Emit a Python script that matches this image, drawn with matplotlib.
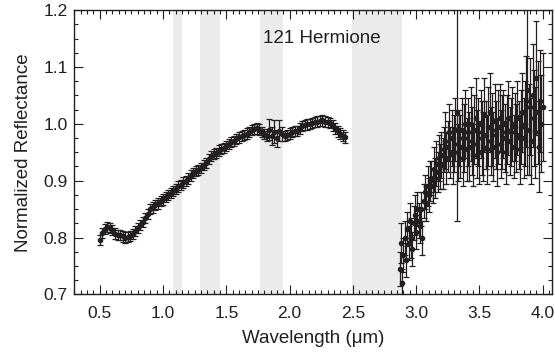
import matplotlib
matplotlib.use("Agg")
import matplotlib.pyplot as plt
from matplotlib.ticker import MultipleLocator

plt.rcParams['font.family'] = ['Liberation Sans', 'DejaVu Sans']

# near-IR part, 0.50-2.44 um
wave_vis = [0.50, 0.52, 0.54, 0.56, 0.58, 0.60, 0.62, 0.64, 0.66, 0.68,
            0.70, 0.72, 0.74, 0.76, 0.78, 0.80, 0.82, 0.84, 0.86, 0.88,
            0.90, 0.92, 0.94, 0.96, 0.98, 1.00, 1.02, 1.04, 1.06, 1.08,
            1.10, 1.12, 1.14, 1.16, 1.18, 1.20, 1.22, 1.24, 1.26, 1.28,
            1.30, 1.32, 1.34, 1.36, 1.38, 1.40, 1.42, 1.44, 1.46, 1.48,
            1.50, 1.52, 1.54, 1.56, 1.58, 1.60, 1.62, 1.64, 1.66, 1.68,
            1.70, 1.72, 1.74, 1.76, 1.78, 1.80, 1.82, 1.84, 1.86, 1.88,
            1.90, 1.92, 1.94, 1.96, 1.98, 2.00, 2.02, 2.04, 2.06, 2.08,
            2.10, 2.12, 2.14, 2.16, 2.18, 2.20, 2.22, 2.24, 2.26, 2.28,
            2.30, 2.32, 2.34, 2.36, 2.38, 2.40, 2.42, 2.44]
refl_vis = [0.796, 0.808, 0.815, 0.818, 0.817, 0.813, 0.807, 0.804, 0.805, 0.802,
            0.800, 0.801, 0.803, 0.806, 0.811, 0.817, 0.822, 0.828, 0.835, 0.842,
            0.850, 0.853, 0.857, 0.860, 0.864, 0.867, 0.871, 0.875, 0.879, 0.882,
            0.886, 0.890, 0.893, 0.897, 0.900, 0.904, 0.909, 0.914, 0.917, 0.919,
            0.922, 0.927, 0.931, 0.938, 0.944, 0.947, 0.949, 0.953, 0.956, 0.958,
            0.961, 0.964, 0.968, 0.970, 0.973, 0.976, 0.979, 0.981, 0.983, 0.986,
            0.989, 0.991, 0.992, 0.990, 0.986, 0.982, 0.979, 0.990, 0.978, 0.986,
            0.975, 0.988, 0.982, 0.979, 0.981, 0.983, 0.985, 0.987, 0.988, 0.992,
            0.996, 0.998, 0.999, 1.000, 1.002, 1.003, 1.004, 1.005, 1.006, 1.004,
            1.003, 1.001, 0.997, 0.992, 0.987, 0.983, 0.979, 0.976]
err_vis = [0.009] * 67 + [0.018, 0.016, 0.020, 0.015, 0.018, 0.012] + [0.009] * 19 + [0.010] * 6

# L-band part, 2.87-4.00 um
wave_ir = [2.87, 2.88, 2.89, 2.90, 2.91, 2.92, 2.93, 2.94, 2.95, 2.96,
           2.97, 2.98, 2.99, 3.00, 3.01, 3.02, 3.03, 3.04, 3.05, 3.06,
           3.07, 3.08, 3.09, 3.10, 3.11, 3.12, 3.13, 3.14, 3.15, 3.16,
           3.17, 3.18, 3.19, 3.20, 3.21, 3.22, 3.23, 3.24, 3.25, 3.26,
           3.27, 3.28, 3.29, 3.30, 3.31, 3.32, 3.33, 3.34, 3.35, 3.36,
           3.37, 3.38, 3.39, 3.40, 3.41, 3.42, 3.43, 3.44, 3.45, 3.46,
           3.47, 3.48, 3.49, 3.50, 3.51, 3.52, 3.53, 3.54, 3.55, 3.56,
           3.57, 3.58, 3.59, 3.60, 3.61, 3.62, 3.63, 3.64, 3.65, 3.66,
           3.67, 3.68, 3.69, 3.70, 3.71, 3.72, 3.73, 3.74, 3.75, 3.76,
           3.77, 3.78, 3.79, 3.80, 3.81, 3.82, 3.83, 3.84, 3.85, 3.86,
           3.87, 3.88, 3.89, 3.90, 3.91, 3.92, 3.93, 3.94, 3.95, 3.96,
           3.97, 3.98, 3.99, 4.00]
refl_ir = [0.745, 0.790, 0.720, 0.770, 0.800, 0.760, 0.815, 0.790, 0.830, 0.800,
           0.780, 0.825, 0.840, 0.810, 0.850, 0.830, 0.820, 0.850, 0.800, 0.865,
           0.880, 0.860, 0.890, 0.875, 0.900, 0.905, 0.890, 0.920, 0.905, 0.930,
           0.915, 0.940, 0.925, 0.945, 0.930, 0.955, 0.970, 0.940, 0.960, 0.985,
           0.950, 0.975, 0.945, 0.965, 0.990, 1.020, 0.950, 0.975, 0.960, 0.990,
           0.940, 0.975, 1.000, 0.955, 0.985, 0.960, 1.000, 0.970, 0.945, 0.990,
           1.010, 0.965, 0.985, 0.950, 1.000, 0.975, 0.960, 1.015, 0.980, 0.955,
           0.995, 1.020, 0.970, 0.990, 0.960, 1.005, 0.980, 0.950, 0.995, 1.010,
           0.965, 0.985, 1.000, 0.975, 0.950, 0.990, 1.010, 0.970, 0.985, 1.000,
           0.960, 0.995, 0.975, 1.010, 0.980, 0.955, 0.995, 1.020, 0.975, 1.000,
           1.040, 1.060, 0.990, 1.030, 0.970, 1.050, 1.010, 0.985, 1.080, 1.020,
           0.960, 1.040, 1.000, 1.030]
err_ir = [0.030, 0.035, 0.025, 0.030, 0.030, 0.030, 0.030, 0.030, 0.030, 0.035,
          0.030, 0.030, 0.035, 0.030, 0.030, 0.030, 0.030, 0.030, 0.030, 0.030,
          0.030, 0.030, 0.035, 0.030, 0.035, 0.030, 0.030, 0.040, 0.035, 0.040,
          0.035, 0.040, 0.040, 0.040, 0.045, 0.040, 0.050, 0.045, 0.045, 0.050,
          0.045, 0.050, 0.050, 0.050, 0.055, 0.190, 0.050, 0.050, 0.055, 0.055,
          0.050, 0.060, 0.060, 0.055, 0.060, 0.060, 0.065, 0.060, 0.055, 0.060,
          0.070, 0.060, 0.060, 0.055, 0.060, 0.065, 0.060, 0.065, 0.060, 0.060,
          0.070, 0.070, 0.060, 0.065, 0.060, 0.065, 0.060, 0.060, 0.065, 0.060,
          0.060, 0.065, 0.060, 0.060, 0.055, 0.060, 0.065, 0.060, 0.060, 0.065,
          0.055, 0.060, 0.060, 0.065, 0.060, 0.060, 0.065, 0.070, 0.070, 0.075,
          0.080, 0.150, 0.080, 0.085, 0.075, 0.090, 0.085, 0.080, 0.100, 0.090,
          0.080, 0.090, 0.085, 0.095]

# telluric bands shaded grey
bands = [(1.08, 1.15), (1.29, 1.45), (1.77, 1.95), (2.49, 2.89)]

INK = "#231f20"

fig = plt.figure(figsize=(5.55, 3.52), dpi=100)
ax = fig.add_axes([0.1342, 0.1634, 0.8595, 0.808])

for lo, hi in bands:
    ax.axvspan(lo, hi, color="#ebebeb", lw=0, zorder=0)

for w, r, e in [(wave_vis, refl_vis, err_vis), (wave_ir, refl_ir, err_ir)]:
    ax.errorbar(w, r, yerr=e, fmt="o", ms=3.0, color=INK, ecolor=INK,
                elinewidth=0.9, capsize=2.4, capthick=0.9, zorder=3)

ax.text(1.787, 1.150, "121 Hermione", fontsize=13.5, ha="left", va="center", color=INK)

ax.set_xlim(0.3, 4.07)
ax.set_ylim(0.7, 1.2)
ax.xaxis.set_major_locator(MultipleLocator(0.5))
ax.xaxis.set_minor_locator(MultipleLocator(0.05))
ax.yaxis.set_major_locator(MultipleLocator(0.1))
ax.yaxis.set_minor_locator(MultipleLocator(0.025))
ax.tick_params(which="both", direction="in", top=True, right=True, colors=INK,
               labelsize=12.5, width=0.8)
ax.tick_params(which="major", length=6.5)
ax.tick_params(axis="x", which="major", pad=8)
ax.tick_params(axis="y", which="major", pad=5)
ax.tick_params(which="minor", length=3.2)
for s in ax.spines.values():
    s.set_linewidth(1.0)
    s.set_color(INK)

ax.set_xlabel("Wavelength (\u03bcm)", fontsize=13.5, color=INK, labelpad=7)
ax.set_ylabel("Normalized Reflectance", fontsize=13.5, color=INK, labelpad=8)

fig.savefig("out.png", dpi=100)
